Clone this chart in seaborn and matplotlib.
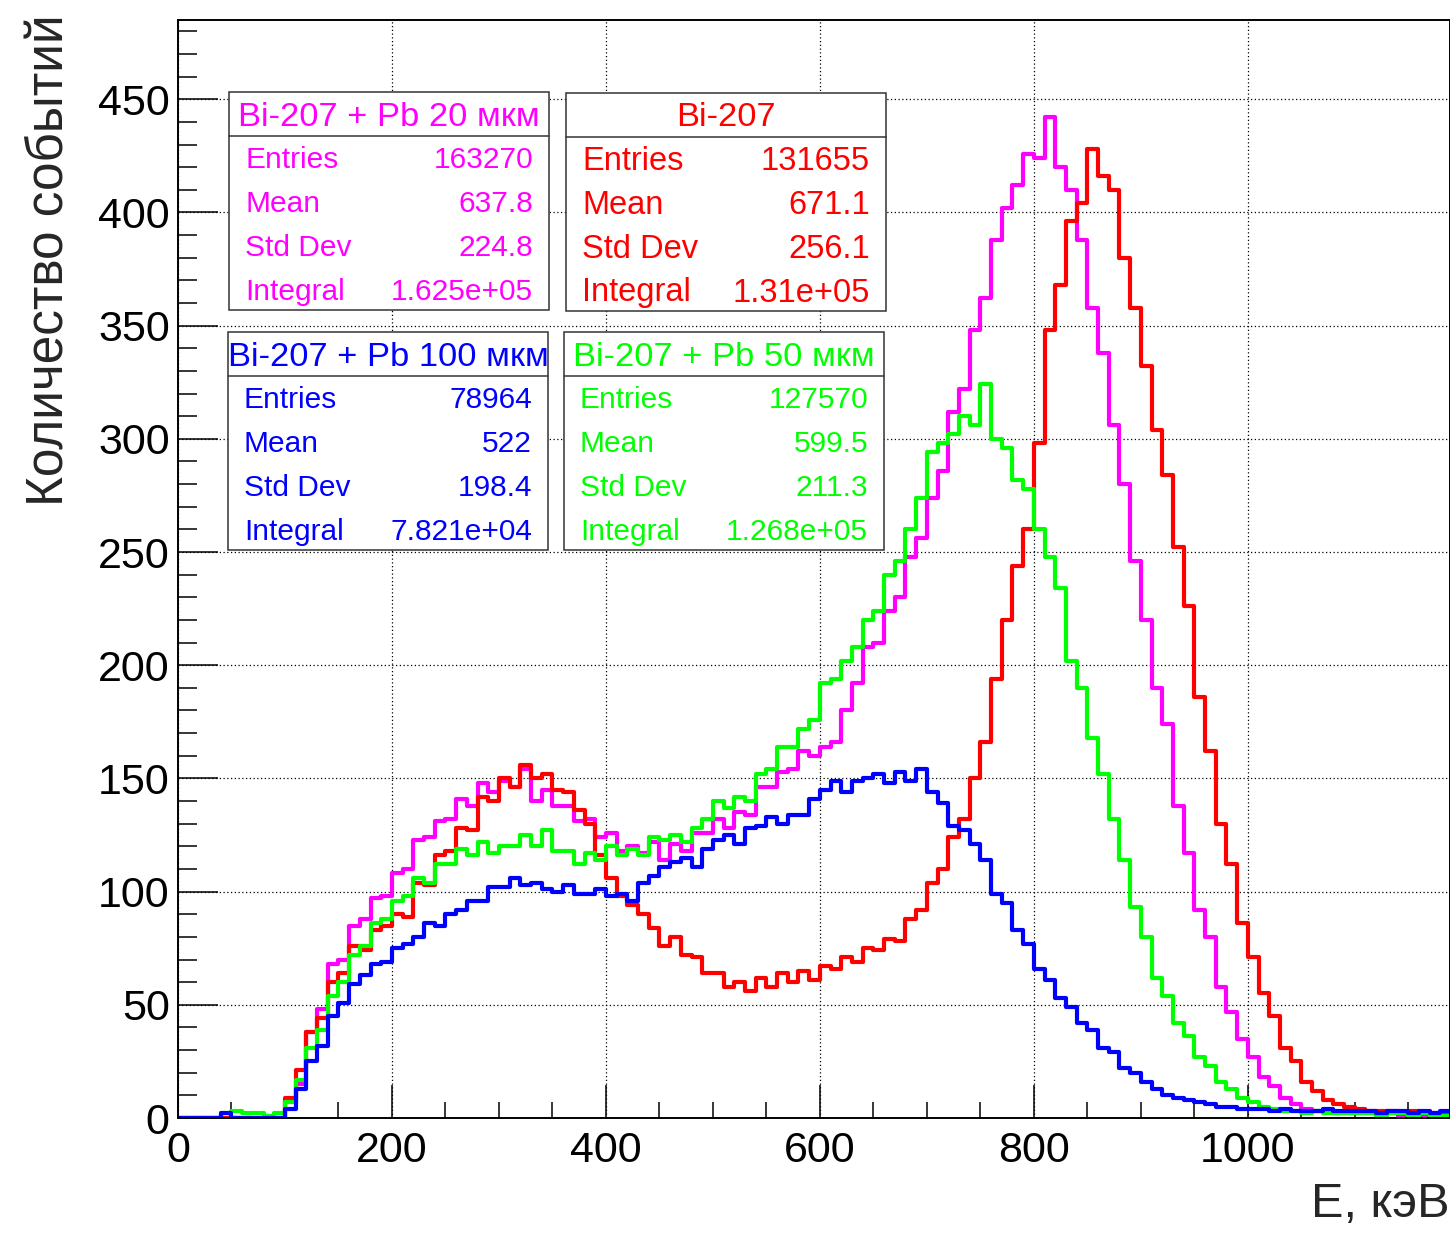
import numpy as np
import pandas as pd
import matplotlib
matplotlib.use("Agg")
import matplotlib.pyplot as plt
from matplotlib.patches import Rectangle
from matplotlib.ticker import MultipleLocator
import seaborn as sns

# energy binning (keV), 10 keV bins
bin_width = 10
e_max = 1190

# counts per bin
bi207 = [0, 0, 0, 0, 0, 0, 0, 0, 0, 0,
         9, 21, 38, 44, 60, 64, 76, 74, 83, 85,
         90, 89, 104, 103, 116, 118, 128, 127, 142, 140,
         150, 146, 156, 150, 152, 145, 144, 136, 130, 116,
         106, 98, 94, 90, 84, 76, 80, 72, 71, 64,
         64, 58, 60, 56, 62, 58, 64, 60, 65, 61,
         67, 66, 71, 69, 75, 74, 79, 78, 88, 92,
         104, 110, 124, 132, 150, 166, 194, 220, 244, 260,
         298, 348, 368, 396, 404, 428, 416, 410, 380, 358,
         332, 304, 284, 252, 226, 186, 162, 130, 112, 86,
         71, 55, 45, 31, 25, 16, 12, 8, 6, 5,
         4, 3, 3, 3, 2, 3, 2, 2, 2]

pb20 = [0, 0, 0, 0, 0, 0, 0, 0, 0, 0,
        7, 15, 38, 48, 68, 70, 85, 88, 97, 98,
        108, 110, 123, 124, 131, 132, 141, 138, 148, 144,
        149, 146, 154, 140, 145, 138, 138, 131, 132, 124,
        126, 118, 120, 117, 122, 114, 121, 118, 126, 126,
        132, 128, 135, 134, 146, 146, 153, 154, 162, 160,
        164, 166, 180, 192, 208, 210, 224, 230, 248, 256,
        274, 286, 312, 322, 348, 362, 388, 402, 412, 426,
        424, 442, 420, 410, 388, 358, 338, 306, 280, 246,
        220, 190, 174, 138, 117, 92, 80, 58, 47, 35,
        27, 18, 14, 9, 6, 4, 3, 3, 2, 2,
        2, 2, 1, 2, 1, 2, 1, 1, 2]

pb50 = [0, 0, 0, 0, 2, 3, 2, 2, 1, 2,
        7, 17, 31, 39, 54, 60, 72, 76, 86, 88,
        96, 98, 106, 104, 112, 112, 119, 116, 122, 117,
        120, 120, 125, 120, 127, 118, 118, 112, 117, 114,
        120, 116, 119, 116, 124, 123, 125, 122, 128, 132,
        140, 137, 142, 140, 152, 154, 164, 164, 172, 176,
        192, 194, 202, 208, 220, 224, 240, 246, 260, 274,
        294, 298, 302, 310, 306, 324, 300, 296, 282, 278,
        260, 248, 234, 202, 190, 168, 152, 132, 114, 93,
        80, 62, 54, 42, 36, 27, 23, 16, 13, 9,
        7, 5, 4, 3, 3, 2, 3, 2, 2, 2,
        2, 2, 1, 2, 2, 1, 2, 1, 1]

pb100 = [0, 0, 0, 0, 2, 0, 0, 0, 0, 0,
         4, 13, 25, 32, 45, 51, 59, 63, 68, 69,
         75, 77, 80, 86, 85, 90, 92, 96, 96, 102,
         102, 106, 103, 104, 101, 100, 103, 99, 99, 101,
         98, 99, 96, 104, 107, 111, 113, 115, 111, 119,
         123, 125, 121, 128, 129, 133, 130, 134, 134, 141,
         145, 149, 144, 149, 150, 152, 148, 153, 149, 154,
         144, 139, 129, 127, 121, 114, 99, 95, 83, 77,
         66, 61, 53, 49, 42, 39, 31, 29, 22, 20,
         16, 13, 10, 9, 8, 7, 6, 5, 5, 4,
         4, 4, 3, 4, 3, 3, 3, 4, 3, 3,
         3, 3, 2, 3, 3, 2, 3, 2, 3]

# stat box contents
titles = ["Bi-207 + Pb 20 мкм", "Bi-207", "Bi-207 + Pb 100 мкм", "Bi-207 + Pb 50 мкм"]
stat_names = ["Entries", "Mean", "Std Dev", "Integral"]
entries = ["163270", "131655", "78964", "127570"]
means = ["637.8", "671.1", "522", "599.5"]
std_devs = ["224.8", "256.1", "198.4", "211.3"]
integrals = ["1.625e+05", "1.31e+05", "7.821e+04", "1.268e+05"]
colors = ["#ff00ff", "#ff0000", "#0000ff", "#00ff00"]

sns.set_theme(style="white")
plt.rcParams["font.family"] = ["Liberation Sans", "DejaVu Sans"]

W, H = 1450, 1233
fig = plt.figure(figsize=(W / 100, H / 100), dpi=100)
ax = fig.add_axes([178 / W, (H - 1118) / H, (W - 178) / W, (1118 - 20) / H])

centers = np.arange(bin_width / 2, e_max, bin_width)

# draw order: magenta, red, green, blue
for counts, col in [(pb20, colors[0]), (bi207, colors[1]), (pb50, colors[3]), (pb100, colors[2])]:
    df = pd.DataFrame({"E": centers, "n": counts})
    sns.histplot(data=df, x="E", weights="n", binwidth=bin_width, binrange=(0, e_max),
                 element="step", fill=False, color=col, linewidth=3.0, ax=ax)

ax.set_xlim(0, 1189)
ax.set_ylim(0, 485)
ax.xaxis.set_major_locator(MultipleLocator(200))
ax.xaxis.set_minor_locator(MultipleLocator(50))
ax.yaxis.set_major_locator(MultipleLocator(50))
ax.yaxis.set_minor_locator(MultipleLocator(10))
ax.tick_params(axis="both", which="both", direction="in", colors="black",
               width=1.1, labelsize=31, top=False, right=False, bottom=True, left=True)
ax.tick_params(axis="x", which="major", length=24, pad=9)
ax.tick_params(axis="x", which="minor", length=11.5)
ax.tick_params(axis="y", which="major", length=29, pad=6)
ax.tick_params(axis="y", which="minor", length=14)
ax.grid(which="major", linestyle=(0, (1, 2)), color="black", linewidth=0.9)
for s in ax.spines.values():
    s.set_color("black")
    s.set_linewidth(1.4)

ax.set_xlabel("E, кэВ", fontsize=35, loc="right")
ax.set_ylabel("Количество событий", fontsize=37, loc="top")
ax.xaxis.set_label_coords(1.0, -0.058)
ax.yaxis.set_label_coords(-0.081, 1.005)


def fx(px):
    return px / W


def fy(py):
    return 1 - py / H


# boxes: left, top, right, bottom, divider, row size
boxes = [(229, 92, 549, 310, 136, 21.5),
         (566, 93, 886, 311, 137, 23.5),
         (228, 332, 548, 550, 376, 21.5),
         (564, 332, 884, 550, 376, 21.5)]
title_size = 24.8

for i, (l, t, r, b, d, rs) in enumerate(boxes):
    fig.add_artist(Rectangle((fx(l), fy(b)), fx(r) - fx(l), fy(t) - fy(b),
                             transform=fig.transFigure, facecolor="white",
                             edgecolor="#333333", linewidth=1.1, zorder=5))
    fig.add_artist(plt.Line2D([fx(l), fx(r)], [fy(d), fy(d)], transform=fig.transFigure,
                              color="#333333", linewidth=1.1, zorder=6))
    c = colors[i]
    fig.text(fx((l + r) / 2), fy(t + 25), titles[i], color=c, fontsize=title_size,
             ha="center", va="center", zorder=7)
    vals = [entries[i], means[i], std_devs[i], integrals[i]]
    for k, (name, v) in enumerate(zip(stat_names, vals)):
        yy = t + 68 + k * 44
        fig.text(fx(l + 16), fy(yy), name, color=c, fontsize=rs, ha="left", va="center", zorder=7)
        fig.text(fx(r - 16), fy(yy), v, color=c, fontsize=rs, ha="right", va="center", zorder=7)

fig.savefig("out.png", dpi=100)
